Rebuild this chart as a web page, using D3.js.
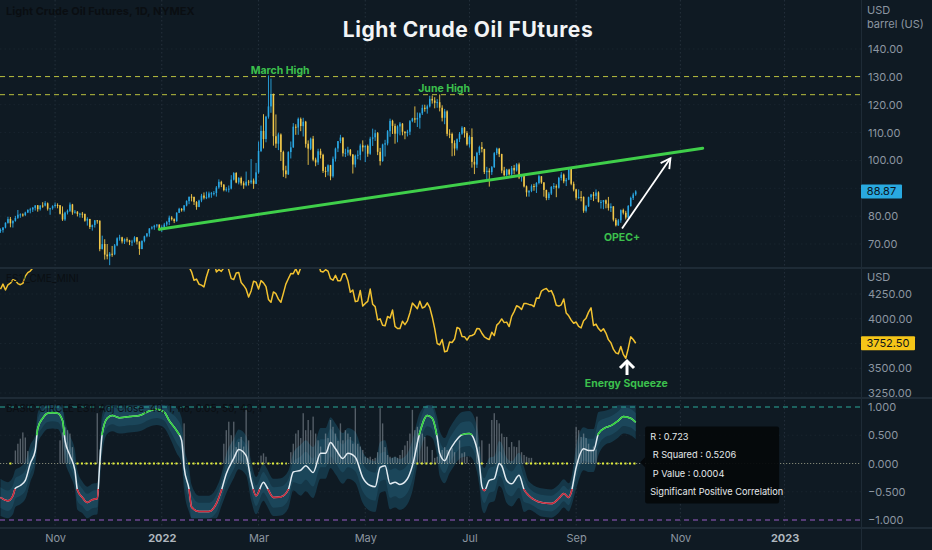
<!DOCTYPE html>
<html><head><meta charset="utf-8">
<script src="https://cdn.jsdelivr.net/npm/d3@7/dist/d3.min.js"></script>
<style>
html,body{margin:0;padding:0;background:#0f1a23;}
svg{display:block;}
</style></head><body>
<svg id="c" width="932" height="550"></svg>
<script>
// ---------- DATA ----------
const tickIdx = [22,65,104,147,189,232,274,316];
const tickLabels = ["Nov","2022","Mar","May","Jul","Sep","Nov","2023"];
const priceTicks = [70,80,90,100,110,120,130,140];
const esTicks = [3250,3500,3750,4000,4250];
const corrTicks = [-1,-0.5,0,0.5,1];

const opens = [74.8,75.0,75.9,77.6,79.0,77.4,78.3,79.4,80.5,80.6,80.4,81.3,82.3,82.4,83.0,83.9,82.5,83.8,83.8,84.6,82.7,82.8,
83.6,84.0,83.9,80.9,78.8,81.3,81.9,84.2,81.3,81.6,80.8,80.9,80.8,78.4,79.0,76.1,76.8,78.5,78.4,68.2,70.0,
66.2,65.6,66.5,66.3,69.5,72.1,72.4,70.9,71.7,71.3,70.7,70.9,72.4,70.9,68.2,71.1,72.8,73.8,75.6,76.0,76.6,77.0,
75.2,76.1,77.0,77.9,79.5,78.9,78.2,81.2,82.6,82.1,83.8,85.4,87.0,86.9,85.1,83.3,85.6,87.4,86.6,86.8,
88.2,88.2,88.3,90.3,92.3,91.3,89.4,89.7,89.9,93.1,95.5,92.1,93.7,91.8,91.1,92.4,92.1,92.8,91.6,
95.7,103.4,110.6,107.7,115.7,119.4,123.7,108.7,106.0,109.3,103.0,96.4,95.0,103.0,104.7,112.1,111.8,114.9,112.3,113.9,106.0,104.2,107.8,
100.3,99.3,103.3,102.0,96.2,96.0,98.3,94.3,100.6,104.3,107.0,108.2,102.6,102.8,103.8,102.1,98.5,101.7,102.0,105.4,
104.7,105.2,102.4,107.8,108.3,109.8,103.1,99.8,105.7,106.1,110.5,114.2,112.4,109.6,112.2,113.2,110.3,109.8,110.3,114.1,115.1,
114.7,115.3,116.9,118.9,118.5,119.4,122.1,121.5,120.7,120.9,118.9,115.3,117.6,109.6,109.5,106.2,104.3,107.6,109.6,111.8,109.8,
105.8,108.4,99.5,98.5,102.7,104.8,104.1,95.8,96.3,95.8,97.6,102.6,104.2,102.3,96.4,94.7,96.7,95.0,97.3,96.4,
98.6,93.9,94.4,90.7,88.5,89.0,90.8,90.5,91.9,94.3,92.1,89.4,86.5,88.1,90.5,90.8,90.2,93.7,94.9,92.5,93.1,97.0,91.6,
89.6,86.6,86.9,86.9,81.9,83.5,86.8,87.8,87.3,88.5,85.1,85.1,85.7,84.5,82.9,83.5,78.7,76.7,78.5,82.2,81.2,
79.5,83.6,86.5,87.8];
const highs = [75.6,76.1,77.8,79.8,79.7,78.5,80.1,82.2,81.0,81.0,81.6,82.4,83.0,83.3,83.9,84.0,84.0,85.0,85.4,84.9,83.0,83.9,
84.9,84.6,84.0,83.5,81.6,82.4,84.9,84.4,82.2,81.8,81.2,81.5,80.9,79.6,79.0,77.0,78.6,78.6,78.4,73.0,71.7,
70.0,67.1,69.3,70.0,72.4,73.3,72.6,72.0,72.4,71.5,71.5,72.8,72.5,70.9,71.3,73.0,73.9,75.7,76.4,76.9,77.1,77.0,
76.7,77.6,78.3,80.2,80.0,79.2,81.4,83.0,82.9,84.0,85.7,87.0,87.9,87.0,85.4,85.9,88.0,88.5,88.8,88.8,
88.7,89.0,90.8,93.2,92.7,91.5,90.4,91.0,94.7,95.8,95.8,94.0,94.2,92.5,96.0,93.0,100.5,93.5,99.1,
106.8,112.5,116.6,116.0,130.5,129.4,124.0,116.5,110.0,109.7,103.5,98.1,103.3,106.8,113.4,113.0,115.4,115.4,115.3,114.2,107.2,108.2,108.8,
101.0,104.2,104.2,102.4,97.7,98.6,98.4,101.4,104.6,106.9,109.2,108.3,104.2,104.9,104.1,102.3,102.1,103.6,106.0,107.2,
105.5,105.7,108.5,111.4,111.0,110.2,104.5,106.0,107.4,110.9,115.0,114.6,113.2,112.6,113.8,113.4,110.5,111.0,114.5,115.3,119.4,
117.2,117.2,120.0,120.0,120.0,123.2,123.3,122.7,122.0,123.7,119.8,118.5,118.0,111.2,110.0,107.2,107.9,110.2,112.3,112.0,110.5,
109.0,111.5,101.5,103.1,105.3,106.6,104.2,97.7,97.2,98.0,103.0,104.6,104.5,102.4,97.7,97.0,97.0,98.0,98.4,99.0,
99.2,95.1,94.9,91.0,89.4,91.4,91.6,92.2,94.9,94.4,92.2,89.5,88.7,90.8,91.9,91.4,94.1,95.8,95.3,93.7,97.6,97.2,92.4,
89.8,89.6,89.0,87.1,84.0,87.0,88.0,88.7,89.6,88.9,85.8,85.8,86.0,86.9,84.6,83.6,79.3,79.0,82.4,82.7,81.9,
84.0,87.0,88.4,89.3];
const lows = [74.0,74.1,75.6,77.3,76.0,75.9,78.0,79.0,79.4,79.8,80.0,81.1,81.0,81.5,82.0,81.6,82.0,83.0,83.5,82.0,80.5,82.3,
83.0,82.8,80.6,78.3,78.3,80.6,81.5,80.5,80.9,79.9,79.5,79.4,78.0,76.6,75.4,74.8,75.9,77.3,67.4,68.0,64.4,
64.5,62.4,65.4,66.0,69.2,71.2,70.2,70.0,70.6,69.6,69.3,70.5,69.8,66.1,68.1,70.6,72.4,72.6,75.2,75.1,75.9,74.9,
74.3,75.7,76.4,76.8,78.4,77.5,78.0,81.1,81.6,81.6,83.5,84.3,85.3,84.0,82.3,83.2,85.0,86.0,86.1,86.4,
86.6,87.4,87.0,89.8,90.4,88.9,88.8,88.5,89.6,92.8,91.8,91.4,91.0,89.8,90.7,91.0,91.5,89.8,91.5,
95.2,103.0,104.3,106.5,115.0,117.1,105.3,104.5,103.7,99.8,94.1,93.6,94.8,100.7,104.5,109.2,109.2,110.5,108.6,104.6,98.4,103.7,99.7,
97.9,98.4,100.7,95.5,94.0,94.6,92.9,93.8,99.6,103.0,106.2,101.4,101.2,101.7,101.5,95.3,97.5,100.4,100.1,103.2,
99.4,101.3,102.0,105.2,107.0,101.9,98.2,99.5,101.4,105.4,108.5,109.5,106.0,106.5,109.0,109.0,107.6,108.6,109.1,113.7,113.5,
112.0,111.4,116.3,117.5,116.8,119.0,120.4,118.7,118.9,117.6,114.0,113.0,108.7,108.0,101.5,101.7,103.6,106.6,109.2,108.2,105.3,
104.6,97.4,95.1,97.3,101.9,102.9,95.1,93.2,90.6,94.8,97.3,101.9,101.2,95.4,94.3,94.3,94.6,94.4,95.0,96.0,
93.3,92.4,90.3,87.0,87.0,88.6,89.1,88.3,91.4,91.6,87.0,85.7,85.8,87.6,89.7,86.8,89.9,92.8,91.8,90.8,92.9,91.1,88.9,
85.7,86.2,85.3,81.2,81.3,83.3,85.8,85.4,86.1,84.9,82.7,82.5,82.8,82.0,81.5,78.1,76.3,76.5,77.6,80.6,78.8,
79.2,83.4,85.8,87.3];
const closes = [75.03,75.88,77.62,78.93,77.43,78.30,79.35,80.52,80.64,80.44,81.31,82.28,82.44,83.05,83.87,82.50,83.76,83.76,84.65,82.66,82.81,83.57,
84.05,83.91,80.86,78.81,81.27,81.93,84.15,81.34,81.59,80.79,80.88,80.76,78.36,79.01,76.10,76.75,78.50,78.39,68.15,69.95,66.18,
65.57,66.50,66.26,69.49,72.05,72.36,70.94,71.67,71.29,70.73,70.87,72.38,70.86,68.23,71.12,72.76,73.79,75.57,75.98,76.56,76.99,75.21,
76.08,76.99,77.85,79.46,78.90,78.23,81.22,82.64,82.12,83.82,85.43,86.96,86.90,85.14,83.31,85.60,87.35,86.61,86.82,88.15,
88.20,88.26,90.27,92.31,91.32,89.36,89.66,89.88,93.10,95.46,92.07,93.66,91.76,91.07,92.35,92.10,92.81,91.59,95.72,
103.41,110.60,107.67,115.68,119.40,123.70,108.70,106.02,109.33,103.01,96.44,95.04,102.98,104.70,112.12,111.76,114.93,112.34,113.90,105.96,104.24,107.82,100.28,
99.27,103.28,101.96,96.23,96.03,98.26,94.29,100.60,104.25,106.95,108.21,102.56,102.75,103.79,102.07,98.54,101.70,102.02,105.36,104.69,
105.17,102.41,107.81,108.26,109.77,103.09,99.76,105.71,106.13,110.49,114.20,112.40,109.59,112.21,113.23,110.29,109.77,110.33,114.09,115.07,114.67,
115.26,116.87,118.87,118.50,119.41,122.11,121.51,120.67,120.93,118.93,115.31,117.59,109.56,109.52,106.19,104.27,107.62,109.57,111.76,109.78,105.76,
108.43,99.50,98.53,102.73,104.79,104.09,95.84,96.30,95.78,97.59,102.60,104.22,102.26,96.35,94.70,96.70,94.98,97.26,96.42,98.62,
93.89,94.42,90.66,88.54,89.01,90.76,90.50,91.93,94.34,92.09,89.41,86.53,88.11,90.50,90.77,90.23,93.74,94.89,92.52,93.06,97.01,91.64,89.55,
86.61,86.87,86.88,81.94,83.54,86.79,87.78,87.31,88.48,85.10,85.11,85.73,84.45,82.94,83.49,78.74,76.71,78.50,82.15,81.23,79.49,
83.63,86.52,87.76,88.87];

const esClose = [4298,
4350,4290,4343,4359,4395,4385,4355,4344,4357,4431,4466,4482,4512,4530,4542,4540,4562,4567,4547,4593,4599,
4610,4627,4656,4679,4694,4697,4681,4643,4647,4679,4678,4697,4685,4700,4693,4679,4686,4700,4593,4651,4560,
4510,4574,4535,4584,4680,4696,4662,4709,4660,4622,4695,4655,4606,4565,4645,4690,4716,4780,4776,4782,4768,4758,
4788,4786,4690,4686,4670,4661,4706,4720,4659,4656,4568,4522,4474,4389,4400,4349,4340,4322,4424,4504,
4536,4579,4473,4495,4478,4514,4582,4494,4405,4396,4462,4468,4366,4337,4299,4220,4281,4379,4370,
4301,4385,4363,4325,4195,4166,4271,4253,4198,4166,4256,4350,4404,4456,4455,4505,4448,4515,4537,4568,4625,4596,4525,
4537,4574,4480,4472,4495,4481,4405,4389,4438,4383,4384,4452,4454,4387,4267,4290,4173,4180,4285,4128,
4155,4176,4300,4146,4123,3988,3999,3935,3930,4023,4007,4088,3923,3901,3901,3974,3941,3979,4058,4158,4132,
4101,4176,4108,4121,4160,4115,4018,3900,3750,3736,3790,3666,3675,3765,3760,3795,3912,3900,3821,3819,3785,
3825,3831,3845,3902,3899,3854,3818,3801,3790,3863,3830,3936,3960,3998,3961,3966,3921,4024,4072,4131,
4119,4094,4155,4153,4145,4140,4122,4210,4208,4280,4297,4305,4274,4284,4228,4137,4128,4141,4200,4058,4030,3986,3955,
3967,3924,3908,3980,4006,4067,4110,3932,3946,3901,3873,3899,3856,3789,3758,3693,3655,3647,3719,3640,3601,
3700,3817,3790,3752.5];

const corrIdx = [0,3,5,6,8,10,12,14,15,17,19,21,23,25,26,28,30,31,33,35,37,39,40,41,43,45,48,52,56,60,63,66,68,71,73,74,76,77,80,84,87,89,91,94,96,99,101,103,106,107,110,113,116,118,121,123,126,129,131,133,135,138,140,143,146,149,151,153,155,157,159,161,164,166,169,172,174,176,177,179,181,183,186,189,191,193,194,195,197,199,201,202,204,206,209,211,213,218,222,225,227,229,230,232,235,237,239,241,244,246,249,251,254,256];
const corrVal = [-0.60,-0.66,-0.57,-0.44,-0.39,-0.30,0.00,0.23,0.62,0.80,0.89,0.90,0.89,0.76,0.41,0.14,-0.12,-0.47,-0.60,-0.69,-0.64,-0.62,0.00,0.53,0.80,0.85,0.81,0.83,0.85,0.93,0.96,0.91,0.76,0.58,0.41,-0.07,-0.46,-0.77,-0.85,-0.85,-0.71,-0.48,-0.18,0.09,0.25,0.14,-0.30,-0.57,-0.33,-0.39,-0.60,-0.59,-0.46,-0.15,-0.12,-0.04,-0.16,0.18,0.18,0.37,0.26,0.09,0.18,0.11,-0.25,-0.39,-0.41,-0.07,-0.04,-0.36,-0.33,-0.37,-0.27,-0.04,0.55,0.85,0.80,0.46,0.18,0.05,0.23,0.37,0.51,0.53,0.41,0.00,-0.40,-0.48,-0.30,-0.27,0.00,-0.04,-0.30,-0.36,-0.21,-0.46,-0.57,-0.69,-0.71,-0.62,-0.53,-0.60,-0.51,-0.07,0.26,0.23,0.23,0.53,0.64,0.67,0.76,0.83,0.80,0.73];
const bandW = [0.33,0.33,0.33,0.33,0.33,0.33,0.33, 0.28,0.28,0.28,0.28,0.28,0.28, 0.35,0.35,0.35,0.35,0.35, 0.28,0.28,0.28,0.28, 0.35,0.35,
0.28,0.28,0.28,0.28,0.28,0.28,0.28,0.28,0.28, 0.4,0.4,0.4,0.4,0.4, 0.28,0.28,0.28,0.28, 0.35,0.35,0.35,0.35,0.35,
0.33,0.33,0.33,0.33,0.33,0.33,0.33,
0.45,0.45,0.45,0.45,0.45,0.45,0.45,0.45,0.45,0.45,0.45,0.45,0.45,0.45,0.45,0.45,0.45,0.45,0.45,0.45,
0.35,0.35,0.35,0.35, 0.4,0.4,0.4,0.4,0.4,0.4,0.4,0.4, 0.4,0.4,0.4,0.4,0.4,0.4,0.4,0.4,0.4,0.4,
0.25,0.25,0.25,0.25,0.25,0.25,0.25, 0.38,0.38,0.38,0.38,0.38, 0.3,0.3,0.3,0.3,0.3,0.3];

const histIdx = [6,7,8,9,10,11,24,25,26,27,28,29,39,40,74,90,91,92,93,94,95,96,97,98,99,100,105,106,107,117,118,119,120,121,122,123,124,125,126,127,128,129,131,132,133,134,135,136,137,138,139,140,141,142,143,144,145,146,147,148,149,150,151,152,153,154,155,156,157,158,159,160,161,162,163,164,165,166,167,168,169,170,171,172,174,175,176,177,178,179,180,181,182,183,185,186,187,188,192,193,194,197,198,199,200,201,202,203,204,205,206,207,208,209,210,211,212,213,214,232,233,234,235,236,237,238,239,240];
const histVal = [0.23,0.35,0.44,0.55,0.46,0.22,0.41,0.55,0.64,0.59,0.53,0.29,0.89,0.25,0.71,0.35,0.59,0.74,0.5,0.74,0.29,0.38,0.47,0.3,0.95,0.41,0.14,0.18,0.12,0.2,0.35,0.53,0.59,0.45,0.89,0.59,0.77,0.59,0.83,0.53,0.41,0.3,0.53,0.45,0.77,0.65,0.53,0.4,0.71,0.41,0.59,0.53,0.47,0.35,0.98,0.35,0.3,0.24,0.12,0.1,0.12,0.08,0.1,0.2,0.98,0.71,0.29,0.15,0.12,0.1,0.12,0.1,0.15,0.24,0.32,0.4,0.53,0.95,0.59,0.65,0.55,0.53,0.47,0.3,0.24,0.1,0.12,0.15,0.24,0.29,0.24,0.24,0.27,0.2,0.41,0.18,0.2,0.12,0.83,0.3,0.41,0.35,0.77,0.89,0.77,0.71,0.53,0.47,0.47,0.29,0.38,0.3,0.29,0.41,0.2,0.15,0.12,0.1,0.1,0.65,0.59,0.47,0.53,0.45,0.35,0.24,0.3,0.25];

const sigStart = [4,31,76,102,108,168,186,194,212,241];
const sigEnd   = [5,72,89,106,115,175,187,195,229,256];

const levels = [130.1, 123.6];
const trendIdx = [64, 283];
const trendPrice = [75.3, 104.4];
const arrowIdx = [250.5, 270];
const arrowPrice = [75.6, 100.8];
const squeezeIdx = 252.5;
const squeezeES = [3432, 3573];
const lastPrice = 88.87;
const lastES = 3752.5;
const statLines = ["R : 0.723", " R Squared : 0.5206", " P Value : 0.0004", "Significant Positive Correlation"];
const notes = [
  {text:"March High", i:112.7, v:130.1, pane:"p", dy:-3},
  {text:"June High", i:178.8, v:123.6, pane:"p", dy:-3},
  {text:"OPEC+", i:250.5, v:71.2, pane:"p", dy:0},
  {text:"Energy Squeeze", i:252.2, v:3310, pane:"e", dy:0}
];

// ---------- SETUP ----------
const W=932, H=550, plotR=861;
const BG="#0f1a23";
const FONT="Inter, 'Noto Sans', Roboto, sans-serif";
const svg=d3.select("#c").style("font-family",FONT);
svg.append("rect").attr("width",W).attr("height",H).attr("fill",BG);

const x=d3.scaleLinear().domain([-0.2,346.8]).range([0,plotR]);
const yP=d3.scaleLinear().domain([70,140]).range([244,49]);
const yE=d3.scaleLinear().domain([3250,4250]).range([393,294]);
const yC=d3.scaleLinear().domain([-1,1]).range([520,407]);

const defs=svg.append("defs");
function clip(id,y0,y1){defs.append("clipPath").attr("id",id).append("rect").attr("x",0).attr("y",y0).attr("width",plotR).attr("height",y1-y0);}
clip("cTop",0,267); clip("cMid",269,397); clip("cBot",399,527);
clip("cGreen",399,yC(0.5)); clip("cRed",yC(-0.45),527);

// ---------- GRID ----------
const grid=svg.append("g");
tickIdx.forEach(i=>grid.append("line").attr("x1",x(i)).attr("x2",x(i)).attr("y1",0).attr("y2",527)
  .attr("stroke","#25313c").attr("stroke-dasharray","1.5,2.5"));
priceTicks.forEach(v=>grid.append("line").attr("x1",0).attr("x2",plotR).attr("y1",yP(v)).attr("y2",yP(v))
  .attr("stroke","#18242e").attr("stroke-dasharray","1.5,3"));
esTicks.forEach(v=>grid.append("line").attr("x1",0).attr("x2",plotR).attr("y1",yE(v)).attr("y2",yE(v))
  .attr("stroke","#18242e").attr("stroke-dasharray","1.5,3"));
[-0.5,0.5].forEach(v=>grid.append("line").attr("x1",0).attr("x2",plotR).attr("y1",yC(v)).attr("y2",yC(v))
  .attr("stroke","#18242e").attr("stroke-dasharray","1.5,3"));

// ---------- TOP PANE ----------
const gTop=svg.append("g").attr("clip-path","url(#cTop)");
levels.forEach(v=>gTop.append("line").attr("x1",0).attr("x2",plotR).attr("y1",yP(v)).attr("y2",yP(v))
  .attr("stroke","#b9bf3e").attr("stroke-width",1).attr("stroke-dasharray","5,4"));

const n=Math.min(opens.length,highs.length,lows.length,closes.length);
const bars=d3.range(n);
const step=x(1)-x(0);
const bw=Math.max(1,step*0.62);
const UP="#2aa8e4", DN="#f2c84a";
const col=i=>closes[i]>=opens[i]?UP:DN;
gTop.selectAll("line.w").data(bars).join("line").attr("class","w")
  .attr("x1",i=>x(i)).attr("x2",i=>x(i)).attr("y1",i=>yP(highs[i])).attr("y2",i=>yP(lows[i]))
  .attr("stroke",col).attr("stroke-width",0.9);
gTop.selectAll("rect.b").data(bars).join("rect").attr("class","b")
  .attr("x",i=>x(i)-bw/2).attr("width",bw)
  .attr("y",i=>yP(Math.max(opens[i],closes[i])))
  .attr("height",i=>Math.max(1,Math.abs(yP(opens[i])-yP(closes[i]))))
  .attr("fill",col);

// trendline
gTop.append("line").attr("x1",x(trendIdx[0])).attr("y1",yP(trendPrice[0])).attr("x2",x(trendIdx[1])).attr("y2",yP(trendPrice[1]))
  .attr("stroke","#3fcf4a").attr("stroke-width",3).attr("stroke-linecap","round");

// arrow
(function(){
  const x1=x(arrowIdx[0]), y1=yP(arrowPrice[0]), x2=x(arrowIdx[1]), y2=yP(arrowPrice[1]);
  const a=Math.atan2(y2-y1,x2-x1), L=11, sp=0.5;
  gTop.append("line").attr("x1",x1).attr("y1",y1).attr("x2",x2).attr("y2",y2).attr("stroke","#ffffff").attr("stroke-width",1.8);
  gTop.append("path").attr("d",`M${x2-L*Math.cos(a-sp)},${y2-L*Math.sin(a-sp)}L${x2},${y2}L${x2-L*Math.cos(a+sp)},${y2-L*Math.sin(a+sp)}`)
    .attr("fill","none").attr("stroke","#ffffff").attr("stroke-width",1.8).attr("stroke-linejoin","miter");
})();

// ---------- MIDDLE PANE ----------
const gMid=svg.append("g").attr("clip-path","url(#cMid)");
gMid.append("path").datum(d3.range(esClose.length))
  .attr("d",d3.line().x(i=>x(i)).y(i=>yE(esClose[i])))
  .attr("fill","none").attr("stroke","#f2c230").attr("stroke-width",1.5).attr("stroke-linejoin","round");
// squeeze arrow
(function(){
  const xa=x(squeezeIdx), yb=yE(squeezeES[0]), yt=yE(squeezeES[1]);
  svg.append("line").attr("x1",xa).attr("x2",xa).attr("y1",yb).attr("y2",yt+1).attr("stroke","#fff").attr("stroke-width",3);
  svg.append("path").attr("d",`M${xa-7},${yt+7}L${xa},${yt}L${xa+7},${yt+7}`).attr("fill","none")
    .attr("stroke","#fff").attr("stroke-width",3).attr("stroke-linejoin","miter");
})();

// ---------- BOTTOM PANE ----------
const gBot=svg.append("g").attr("clip-path","url(#cBot)");
const cPts=d3.range(Math.min(corrIdx.length,corrVal.length,bandW.length));
const areaOuter=d3.area().curve(d3.curveMonotoneX).x(k=>x(corrIdx[k]))
  .y0(k=>yC(Math.max(-0.97,corrVal[k]-bandW[k]))).y1(k=>yC(Math.min(1.03,corrVal[k]+bandW[k])));
const areaInner=d3.area().curve(d3.curveMonotoneX).x(k=>x(corrIdx[k]))
  .y0(k=>yC(Math.max(-0.97,corrVal[k]-bandW[k]*0.55))).y1(k=>yC(Math.min(1.03,corrVal[k]+bandW[k]*0.55)));
gBot.append("path").datum(cPts).attr("d",areaOuter).attr("fill","#153748");
gBot.append("path").datum(cPts).attr("d",areaInner).attr("fill","#1b465a");

// histogram
const hw=Math.max(1,step*0.55);
gBot.selectAll("rect.h").data(d3.range(Math.min(histIdx.length,histVal.length))).join("rect").attr("class","h")
  .attr("x",k=>x(histIdx[k])-hw/2).attr("width",hw)
  .attr("y",k=>yC(histVal[k])).attr("height",k=>yC(0)-yC(histVal[k]))
  .attr("fill","#aab4bd").attr("opacity",0.45);

// reference lines
gBot.append("line").attr("x1",0).attr("x2",plotR).attr("y1",yC(0)).attr("y2",yC(0))
  .attr("stroke","#c9cba8").attr("stroke-opacity",0.6).attr("stroke-width",1.2).attr("stroke-dasharray","1.2,1.8");
sigStart.forEach((s,k)=>gBot.append("line").attr("x1",x(s)-1).attr("x2",x(sigEnd[k])+1).attr("y1",yC(0)).attr("y2",yC(0))
  .attr("stroke","#e4f03a").attr("stroke-width",2).attr("stroke-dasharray","2,2.5"));
gBot.append("line").attr("x1",0).attr("x2",plotR).attr("y1",yC(1)).attr("y2",yC(1))
  .attr("stroke","#2aa89a").attr("stroke-width",1).attr("stroke-dasharray","5,4");
gBot.append("line").attr("x1",0).attr("x2",plotR).attr("y1",yC(-1)).attr("y2",yC(-1))
  .attr("stroke","#9a5cc6").attr("stroke-width",1).attr("stroke-dasharray","5,4");

// correlation line, coloured by zone
const cLine=d3.line().curve(d3.curveMonotoneX).x(k=>x(corrIdx[k])).y(k=>yC(corrVal[k]));
gBot.append("path").datum(cPts).attr("d",cLine).attr("fill","none").attr("stroke","#e3ecf2").attr("stroke-width",1.5);
svg.append("g").attr("clip-path","url(#cGreen)").append("path").datum(cPts).attr("d",cLine)
  .attr("fill","none").attr("stroke","#35d43f").attr("stroke-width",1.6);
svg.append("g").attr("clip-path","url(#cRed)").append("path").datum(cPts).attr("d",cLine)
  .attr("fill","none").attr("stroke","#c92a3b").attr("stroke-width",1.6);

// stats box
(function(){
  const bx=x(259.8), by=yC(0.655), bwid=134, bh=77;
  const g=svg.append("g");
  g.append("path").attr("d",`M${bx},${yC(0.02)-5}L${bx-5},${yC(0.02)}L${bx},${yC(0.02)+5}Z`).attr("fill","#05080b");
  g.append("rect").attr("x",bx).attr("y",by).attr("width",bwid).attr("height",bh).attr("rx",2).attr("fill","#05080b").attr("opacity",0.95);
  const offs=[13.5,32,50.5,69];
  statLines.forEach((t,k)=>g.append("text").attr("x",bx+5).attr("y",by+offs[k]).attr("fill","#e6e9ec")
    .style("font-size","9.2px").style("white-space","pre").attr("xml:space","preserve").text(t));
})();

// ---------- ANNOTATION TEXT ----------
notes.forEach(d=>{
  const yy=d.pane==="p"?yP(d.v):yE(d.v);
  svg.append("text").attr("x",x(d.i)).attr("y",yy+d.dy).attr("text-anchor","middle")
    .attr("fill","#3cc04d").style("font-size","10.5px").style("font-weight","700").text(d.text);
});

// title
svg.append("text").attr("x",468).attr("y",37).attr("text-anchor","middle").attr("fill","#f2f4f6")
  .style("font-size","21px").style("font-weight","700").style("letter-spacing","0.55px").text("Light Crude Oil FUtures");

// faint pane legends
svg.append("text").attr("x",6).attr("y",15).attr("fill","#0a0e12").style("font-size","11px").style("font-weight","700").text("Light Crude Oil Futures, 1D, NYMEX");
svg.append("text").attr("x",6).attr("y",282).attr("fill","#0a0e12").style("font-size","10px").text("ES1!_CME_MINI");
svg.append("text").attr("x",6).attr("y",412).attr("fill","#0a0e12").style("font-size","10px").text("BASIC CIRCLE ES1! Adj Close, 40, 1, no, 0.05, 50, 40, 1");

// ---------- SEPARATORS ----------
[268,398,528].forEach(y=>svg.append("line").attr("x1",0).attr("x2",W).attr("y1",y).attr("y2",y).attr("stroke","#1e2b36").attr("stroke-width",2));
svg.append("line").attr("x1",plotR+0.5).attr("x2",plotR+0.5).attr("y1",0).attr("y2",H).attr("stroke","#1e2b36").attr("stroke-width",1);

// ---------- AXES ----------
function styleAxis(g,color){
  g.select(".domain").remove();
  g.attr("font-family",FONT).attr("font-size",11);
  g.selectAll("text").attr("fill",color);
}
const fmt2=d3.format(".2f");
svg.append("g").attr("transform",`translate(${plotR},0)`)
  .call(d3.axisRight(yP).tickValues(priceTicks.filter(v=>Math.abs(yP(v)-yP(lastPrice))>10)).tickFormat(fmt2).tickSize(0).tickPadding(7))
  .call(g=>styleAxis(g,"#8c96a1"));
svg.append("g").attr("transform",`translate(${plotR},0)`)
  .call(d3.axisRight(yE).tickValues(esTicks.filter(v=>Math.abs(yE(v)-yE(lastES))>10)).tickFormat(fmt2).tickSize(0).tickPadding(7))
  .call(g=>styleAxis(g,"#8c96a1"));
svg.append("g").attr("transform",`translate(${plotR},0)`)
  .call(d3.axisRight(yC).tickValues(corrTicks).tickFormat(v=>(v<0?"\u2212":"")+Math.abs(v).toFixed(3)).tickSize(0).tickPadding(7))
  .call(g=>styleAxis(g,"#8c96a1"));
const xa=svg.append("g").attr("transform","translate(0,528)")
  .call(d3.axisBottom(x).tickValues(tickIdx).tickFormat((d,k)=>tickLabels[k]).tickSize(0).tickPadding(6))
  .call(g=>styleAxis(g,"#8c96a1"));
xa.selectAll("text").filter((d,k)=>/^\d{4}$/.test(tickLabels[k])).attr("fill","#aeb6be").style("font-weight","700");

// unit labels
[["USD",14],["barrel (US)",28],["USD",281]].forEach(([t,y])=>svg.append("text").attr("x",867).attr("y",y)
  .attr("fill","#8c96a1").style("font-size","11px").text(t));

// last value tags
function tag(yv,wid,fill,txt){
  svg.append("rect").attr("x",plotR).attr("y",yv-7).attr("width",wid).attr("height",14).attr("rx",1).attr("fill",fill);
  svg.append("text").attr("x",plotR+wid/2).attr("y",yv).attr("dy","0.36em").attr("text-anchor","middle")
    .attr("fill","#0c141c").style("font-size","11px").text(txt);
}
tag(yP(lastPrice),41,"#29a9e0",fmt2(lastPrice));
tag(yE(lastES),54,"#f5c518",fmt2(lastES));
</script>
</body></html>
